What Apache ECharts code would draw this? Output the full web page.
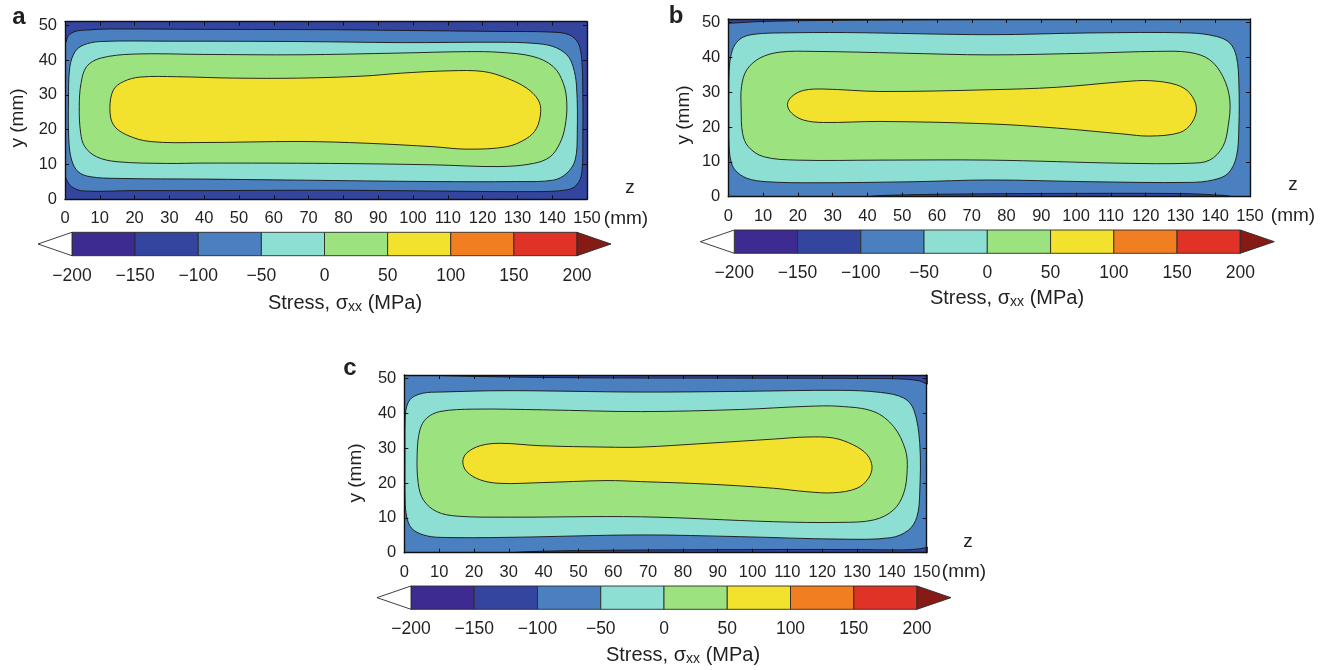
<!DOCTYPE html>
<html>
<head>
<meta charset="utf-8">
<script src="https://cdn.jsdelivr.net/npm/echarts@6.0.0/dist/echarts.min.js"></script>
<style>
  html, body { margin: 0; padding: 0; background: #ffffff; }
  #chart { width: 1328px; height: 670px; }
</style>
</head>
<body>
<div id="chart"></div>
<script>
// ---- stress scale (MPa) ----
const stressLevels = [-200, -150, -100, -50, 0, 50, 100, 150, 200];
const bandColors = ['#3e2b92', '#3445a0', '#4a80bf', '#8edfd3', '#9ce37f', '#f2e22d', '#f27e22', '#e03227'];
const belowColor = '#ffffff';
const aboveColor = '#861a14';

// ---- plate axes (mm) ----
const zTicks = [0, 10, 20, 30, 40, 50, 60, 70, 80, 90, 100, 110, 120, 130, 140, 150];
const yTicks = [0, 10, 20, 30, 40, 50];
const zRange = [0, 150];
const yRange = [0, 51];

// ---- panel a: contour outlines [z, y] in mm ----
const a_m100 = [[-3,44.8],[0,44.8],[0.9,46.9],[2.9,48.2],[6.2,48.6],[12.9,48.9],[40,48.8],[76,48.7],[96,48.5],[125,48.2],[140.2,48],[145,47.2],[147.5,44.8],[148.5,40],[148.8,30],[148.8,19],[148.5,7.5],[147,4.1],[144.2,2.7],[134.6,2.2],[105,2.4],[76,2.6],[40,2.5],[19.6,2.5],[5.3,2.4],[1.9,3.6],[0.5,5.5],[0,6.5],[-3,6.5]];
const a_m50 = [[10.1,45.3],[30,45.4],[67.5,45.3],[96.3,45],[125,45.1],[134.5,44.8],[140.2,43.9],[144.2,41.5],[146,38.1],[147,32.4],[147.2,19],[146.6,11.3],[144.2,7.5],[140.3,5.5],[129.8,5.1],[105.8,5.1],[67.5,5.5],[40,5.8],[14.9,6],[7.2,6.5],[3.8,7.9],[1.9,11.3],[1.1,17],[1,28.5],[1.4,38.1],[2.9,42.4],[5.3,44.3]];
const a_0 = [[19.6,41.7],[40,41.6],[67.5,41.5],[96.3,42],[115.4,42.4],[125,42.2],[134.5,41],[140.3,38.1],[143.2,33.3],[144.2,27.6],[143.7,20.9],[142.2,16.1],[139.4,12.2],[134.6,10.3],[125,9.4],[105.8,9.9],[76,10.3],[40,10.4],[29.2,10.3],[14.9,10.8],[9.1,12.2],[5.7,15.1],[4.5,19],[4.1,26.6],[4.6,33.3],[6.2,38.1],[10.1,40.5]];
const a_50 = [[12.9,26.1],[13.9,31.4],[16.8,33.8],[21.6,35.1],[32.1,35.2],[48.4,34.8],[67.5,34.8],[86,35.4],[96.3,36.2],[110.6,36.9],[120.2,36.7],[126.9,34.8],[132.7,31.9],[136,28.5],[136.7,25.2],[135.5,20.4],[132.7,17.5],[126.9,15.1],[115.4,14.4],[105.8,15.1],[86.7,16.1],[67.5,16.6],[38.8,16.3],[24.4,16.6],[17.7,18.5],[13.9,21.4]];

// ---- panel b ----
const b_m100Top = [[-3,53],[-3,50],[0,49.8],[10,50.3],[30,50.6],[60,50.8],[100,51],[120,51.3],[122,53]];
const b_m100Bottom = [[38,-1],[40,0],[50,0.5],[70,0.8],[100,0.95],[130,0.9],[140,0.5],[145,0],[146,-1]];
const b_m50 = [[14.9,47],[34,47.1],[75.2,46.5],[104,47],[132.6,47],[140.3,46],[144.2,44.1],[146.1,40.2],[146.8,32.6],[146.8,20.1],[146.1,11.5],[143.7,6.7],[139.4,4.8],[132.7,4.1],[104,4.3],[75.2,4.8],[53.2,4.3],[24.4,4],[11,4.3],[5.3,5.3],[1.9,7.7],[0.7,10.5],[0.25,14],[0.15,20],[0.15,30],[0.25,36],[0.7,40.2],[1.9,43.6],[4.3,45.8],[8.2,46.7]];
const b_0 = [[14.9,41.5],[24.4,41.7],[50,41.2],[75.2,40.7],[104,41.2],[123.1,41.7],[132.7,41.4],[138.4,39.3],[142.2,34.5],[144.2,27.8],[143.7,20.1],[142.2,14.4],[138.4,10.5],[132.7,9.6],[113.5,9.6],[75.2,10.5],[43.6,10.5],[19.7,10.5],[10.1,11.5],[5.7,14.4],[4.1,18.2],[3.7,24.9],[3.8,31.6],[5.3,36.4],[9.1,39.8]];
const b_50 = [[17,26.4],[18.2,28.7],[21.6,30.5],[27.3,30.9],[43.6,30.2],[75.2,30.7],[94.4,31.4],[113.5,33],[121.2,33.3],[128.9,32.1],[132.7,29.7],[134.6,25.4],[133.2,21.1],[129.8,18.4],[121.2,17.4],[113.5,18],[94.4,19.7],[75.2,20.9],[43.6,21.6],[27.3,21.3],[21.6,22],[18.2,24]];

// ---- panel c ----
const c_m100Top = [[-3,53],[-3,51.2],[5,51],[20,50.6],[50,50.2],[100,50.1],[135,50],[144,49.8],[148,49.3],[150,48.5],[153,48.5],[153,53]];
const c_m100Bottom = [[25,-1],[30,0],[50,0.6],[100,0.9],[130,0.9],[143,0.8],[148,1.1],[150,1.5],[153,1.5],[153,-1]];
const c_m50 = [[10.2,46.1],[29.4,46.5],[67.9,46.1],[96.5,46.3],[125.1,46.6],[136.7,46],[143.4,44.4],[146.3,41],[148,31.4],[148,17.1],[147.2,10.3],[144.8,6.5],[139.6,4.3],[125.1,3.9],[96.5,4.6],[67.9,5.1],[29.4,4.4],[10.3,4.4],[5.5,5.1],[2.1,7],[0.7,10.3],[0.25,15],[0.2,27],[0.25,38],[0.7,42],[2.1,44.4],[5.5,45.8]];
const c_0 = [[19.8,41.2],[40,41],[67.9,40.5],[96.5,41.1],[115.6,42],[125.1,42],[134.8,40.5],[140.5,36.2],[143.9,29.5],[144.4,23.8],[143.4,17.1],[140.5,12.3],[134.8,9.4],[125.1,8.7],[106,8.9],[67.9,10.3],[29.4,10.2],[15.1,10.5],[9.3,11.8],[5.5,15.1],[4,19.9],[3.7,28.6],[4.5,35.3],[6.4,38.6],[10.2,40.5]];
const c_50 = [[16.8,26.1],[17.9,28.6],[21.8,30.7],[27.5,31.4],[39,30.7],[58.2,30.3],[67.9,30.3],[86.9,31.4],[106,32.6],[115.6,33.2],[123.3,32.9],[129,30.9],[132.9,28.1],[134.3,24.7],[133.3,21.4],[130,18.5],[123.3,17.2],[115.6,17.5],[106,18.5],[86.9,19.7],[67.9,20.4],[58.2,20.7],[39,20.1],[27.5,19.9],[21.8,20.9],[17.9,23.3]];

// each panel: background band + filled regions stacked from the edge inwards (band = index into bandColors)
const panels = [
  { name: 'a', bg: 1, layers: [{ pts: a_m100, band: 2 }, { pts: a_m50, band: 3 }, { pts: a_0, band: 4 }, { pts: a_50, band: 5 }],
    grid: { left: 65, top: 21.7, width: 522, height: 177.6 },
    bar: { left: 72, top: 232.3, width: 505, height: 23.4 } },
  { name: 'b', bg: 2, layers: [{ pts: b_m100Top, band: 1 }, { pts: b_m100Bottom, band: 1 }, { pts: b_m50, band: 3 }, { pts: b_0, band: 4 }, { pts: b_50, band: 5 }],
    grid: { left: 728.3, top: 19, width: 521.7, height: 177.7 },
    bar: { left: 734.3, top: 230, width: 506, height: 23.3 } },
  { name: 'c', bg: 2, layers: [{ pts: c_m100Top, band: 1 }, { pts: c_m100Bottom, band: 1 }, { pts: c_m50, band: 3 }, { pts: c_0, band: 4 }, { pts: c_50, band: 5 }],
    grid: { left: 404.3, top: 375, width: 522.4, height: 177.7 },
    bar: { left: 411, top: 586, width: 506, height: 23.3 } }
];

const FONT = "'Liberation Sans', Arial, Helvetica, sans-serif";
const INK = '#231f20';
const ARROW_PX = 34;

const grids = [], xAxes = [], yAxes = [], series = [];

function minusLabel(v) { return v < 0 ? '\u2212' + Math.abs(v) : String(v); }

panels.forEach((p, i) => {
  const gPlot = grids.length;
  grids.push(Object.assign({ show: true, backgroundColor: bandColors[p.bg], borderWidth: 0, containLabel: false, outerBoundsMode: 'none' }, p.grid));
  const gBar = grids.length;
  grids.push(Object.assign({ show: false, containLabel: false, outerBoundsMode: 'none' }, p.bar));

  const axisLineStyle = { color: '#111', width: 1.4 };
  const tickStyle = { show: true, inside: true, length: 4, lineStyle: { color: '#111', width: 1 } };
  const xBottom = xAxes.length;
  xAxes.push({ gridIndex: gPlot, type: 'value', position: 'bottom', min: zRange[0], max: zRange[1], interval: 10, z: 10,
    axisLine: { show: true, onZero: false, lineStyle: axisLineStyle },
    axisTick: Object.assign({ customValues: zTicks }, tickStyle),
    axisLabel: { customValues: zTicks, fontSize: 16.5, color: INK, fontFamily: FONT, margin: 11 },
    splitLine: { show: false } });
  xAxes.push({ gridIndex: gPlot, type: 'value', position: 'top', min: zRange[0], max: zRange[1], interval: 10, z: 10,
    axisLine: { show: true, onZero: false, lineStyle: axisLineStyle },
    axisTick: Object.assign({ customValues: zTicks }, tickStyle),
    axisLabel: { show: false }, splitLine: { show: false } });
  const yLeft = yAxes.length;
  yAxes.push({ gridIndex: gPlot, type: 'value', position: 'left', min: yRange[0], max: yRange[1], interval: 10, z: 10,
    axisLine: { show: true, onZero: false, lineStyle: axisLineStyle },
    axisTick: Object.assign({ customValues: yTicks }, tickStyle),
    axisLabel: { customValues: yTicks, fontSize: 16.5, color: INK, fontFamily: FONT, margin: 8,
      formatter: v => (v % 10 === 0 ? String(v) : '') },
    splitLine: { show: false } });
  yAxes.push({ gridIndex: gPlot, type: 'value', position: 'right', min: yRange[0], max: yRange[1], interval: 10, z: 10,
    axisLine: { show: true, onZero: false, lineStyle: axisLineStyle },
    axisTick: Object.assign({ customValues: yTicks }, tickStyle),
    axisLabel: { show: false }, splitLine: { show: false } });

  const layers = p.layers;
  series.push({
    type: 'custom', name: 'panel-' + p.name, xAxisIndex: xBottom, yAxisIndex: yLeft, clip: true, silent: true,
    encode: { x: 0, y: 1 },
    data: layers.map((L, k) => [L.pts[1][0], L.pts[1][1], k]),
    renderItem: function (params, api) {
      const L = layers[api.value(2)];
      const pts = L.pts.map(pt => api.coord(pt));
      return { type: 'polygon', shape: { points: pts, smooth: 0.35 },
        style: { fill: bandColors[L.band], stroke: '#151515', lineWidth: 0.9 } };
    }
  });

  // colour bar
  const xBar = xAxes.length;
  xAxes.push({ gridIndex: gBar, type: 'value', position: 'bottom', min: stressLevels[0], max: stressLevels[stressLevels.length - 1], interval: 50,
    axisLine: { show: false }, axisTick: { show: false }, splitLine: { show: false },
    axisLabel: { fontSize: 17.5, color: INK, fontFamily: FONT, margin: 11, formatter: minusLabel } });
  const yBar = yAxes.length;
  yAxes.push({ gridIndex: gBar, type: 'value', min: 0, max: 1, show: false });
  const barItems = bandColors.map((c, k) => [stressLevels[k], stressLevels[k + 1], k]);
  barItems.push([stressLevels[0], stressLevels[0], -1]);
  barItems.push([stressLevels[stressLevels.length - 1], stressLevels[stressLevels.length - 1], -2]);
  series.push({
    type: 'custom', name: 'scale-' + p.name, xAxisIndex: xBar, yAxisIndex: yBar, clip: false, silent: true,
    encode: { x: [0, 1] },
    data: barItems,
    renderItem: function (params, api) {
      const k = api.value(2);
      const stroke = { stroke: '#2a2a2a', lineWidth: 0.9 };
      if (k >= 0) {
        const p0 = api.coord([api.value(0), 1]);
        const p1 = api.coord([api.value(1), 0]);
        return { type: 'rect', shape: { x: p0[0], y: p0[1], width: p1[0] - p0[0], height: p1[1] - p0[1] },
          style: Object.assign({ fill: bandColors[k] }, stroke) };
      }
      const top = api.coord([api.value(0), 1]);
      const bot = api.coord([api.value(0), 0]);
      const dir = k === -1 ? -1 : 1;
      const tip = [top[0] + dir * ARROW_PX, (top[1] + bot[1]) / 2];
      return { type: 'polygon', shape: { points: [top, tip, bot] },
        style: Object.assign({ fill: k === -1 ? belowColor : aboveColor }, stroke) };
    }
  });
});

// axis titles, panel letters, scale titles
const textEls = [];
function addText(x, y, text, size, opts) {
  textEls.push(Object.assign({ type: 'text', x: x, y: y, silent: true,
    style: Object.assign({ text: text, fontSize: size, fontFamily: FONT, fill: INK,
      align: 'center', verticalAlign: 'middle', textAlign: 'center', textVerticalAlign: 'middle' }, (opts && opts.style) || {}) },
    (opts && opts.el) || {}));
}
const labelPos = [
  { letter: [19, 17], yTitle: [18, 118], z: [630, 187.5], mm: [626, 219], stress: [345, 303] },
  { letter: [676, 16], yTitle: [684, 115], z: [1293, 185], mm: [1293, 215.5], stress: [1007, 298.5] },
  { letter: [350, 368], yTitle: [356, 473], z: [968, 542], mm: [964, 571.5], stress: [683, 655] }
];
panels.forEach((p, i) => {
  const L = labelPos[i];
  addText(L.letter[0], L.letter[1], p.name, 24, { style: { fontWeight: 'bold' } });
  addText(L.yTitle[0], L.yTitle[1], 'y (mm)', 19, { el: { rotation: Math.PI / 2 } });
  addText(L.z[0], L.z[1], 'z', 19);
  addText(L.mm[0], L.mm[1], '(mm)', 19);
  textEls.push({ type: 'text', x: L.stress[0], y: L.stress[1], silent: true,
    style: { text: '{t|Stress, \u03c3}{s|xx}{t| (MPa)}', fontFamily: FONT, fill: INK,
      align: 'center', verticalAlign: 'middle', textAlign: 'center', textVerticalAlign: 'middle',
      rich: { t: { fontSize: 20, fontFamily: FONT, fill: INK },
              s: { fontSize: 14, fontFamily: FONT, fill: INK, padding: [8, 0, 0, 0] } } } });
});

const chart = echarts.init(document.getElementById('chart'), null, { renderer: 'canvas', width: 1328, height: 670 });
chart.setOption({
  animation: false,
  backgroundColor: '#ffffff',
  grid: grids,
  xAxis: xAxes,
  yAxis: yAxes,
  series: series,
  graphic: { elements: textEls }
});
</script>
</body>
</html>
